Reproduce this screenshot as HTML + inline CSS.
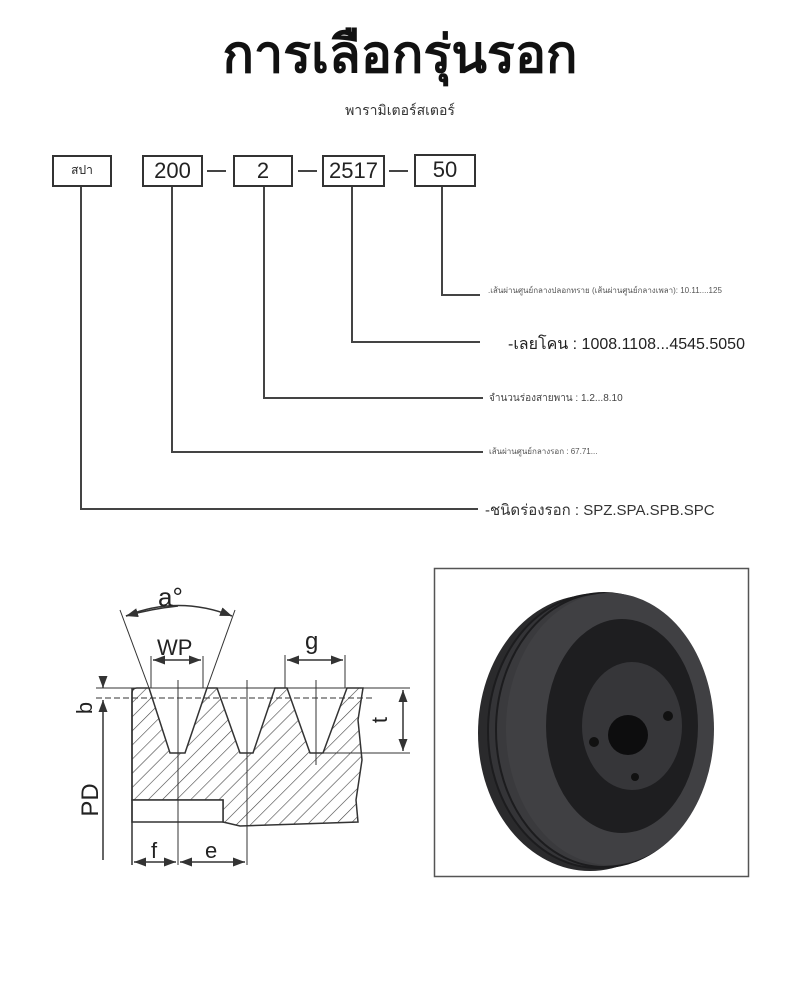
<!DOCTYPE html>
<html><head><meta charset="utf-8"><style>
body{margin:0;background:#fff;width:800px;height:985px;position:relative;overflow:hidden;font-family:"Liberation Sans","DejaVu Sans",sans-serif;color:#222}
.t{position:absolute;white-space:nowrap}
.box{position:absolute;border:2px solid #333;box-sizing:border-box;text-align:center;font-size:22px;line-height:27px;color:#222}
</style></head><body>
<div class="t" style="left:0;width:800px;text-align:center;top:12px;font-size:52px;font-weight:bold;color:#111">การเลือกรุ่นรอก</div>
<div class="t" style="left:0;width:800px;text-align:center;top:100px;font-size:14px;color:#333">พารามิเตอร์สเตอร์</div>

<div class="box" style="left:52px;top:155px;width:60px;height:32px;font-size:12px">สปา</div>
<div class="box" style="left:142px;top:155px;width:61px;height:32px">200</div>
<div class="box" style="left:233px;top:155px;width:60px;height:32px">2</div>
<div class="box" style="left:322px;top:155px;width:63px;height:32px">2517</div>
<div class="box" style="left:414px;top:154px;width:62px;height:33px">50</div>

<svg width="800" height="985" style="position:absolute;left:0;top:0">
<g stroke="#444" stroke-width="2" fill="none">
<line x1="207" y1="171" x2="226" y2="171"/><line x1="298" y1="171" x2="317" y2="171"/><line x1="389" y1="171" x2="408" y2="171"/>
<polyline points="81,187 81,509 478,509"/>
<polyline points="172,187 172,452 483,452"/>
<polyline points="264,187 264,398 483,398"/>
<polyline points="352,187 352,342 480,342"/>
<polyline points="442,187 442,295 480,295"/>
</g>
<defs><pattern id="h" width="10" height="10" patternUnits="userSpaceOnUse" patternTransform="rotate(45)"><line x1="0" y1="0" x2="0" y2="10" stroke="#444" stroke-width="1.2"/></pattern>
<marker id="a" markerWidth="8" markerHeight="6" refX="8" refY="3" orient="auto"><path d="M0,0L8,3L0,6z" fill="#333"/></marker></defs>
<g stroke="#333" stroke-width="1.5">
<path d="M132,693 Q132,688 137,688 L149,688 L170,753 L185,753 L207,688 L217,688 L240,753 L253,753 L275,688 L287,688 L310,753 L323,753 L347,688 L363,688 L358,720 L362,760 L356,800 L358,822 L300,824 L240,826 L223,822 L223,800 L132,800 Z" fill="url(#h)"/>
<rect x="132" y="800" width="91" height="22" fill="#fff"/>
<line x1="132" y1="688" x2="132" y2="865"/>
<line x1="178" y1="680" x2="178" y2="865" stroke-width="1"/>
<line x1="247" y1="680" x2="247" y2="865" stroke-width="1"/>
<line x1="316" y1="680" x2="316" y2="765" stroke-width="1"/>
<line x1="96" y1="688" x2="410" y2="688" stroke-width="1"/>
<line x1="96" y1="698" x2="372" y2="698" stroke-width="1" stroke-dasharray="6,3"/>
<line x1="323" y1="753" x2="410" y2="753" stroke-width="1"/>
<line x1="103" y1="682" x2="103" y2="688" marker-end="url(#a)"/>
<line x1="103" y1="860" x2="103" y2="700" marker-end="url(#a)"/>
<line x1="403" y1="720" x2="403" y2="690" marker-end="url(#a)"/>
<line x1="403" y1="720" x2="403" y2="751" marker-end="url(#a)"/>
<line x1="120" y1="610" x2="149" y2="688" stroke-width="1"/>
<line x1="235" y1="610" x2="207" y2="688" stroke-width="1"/>
<path d="M126,616 Q178,595 232,616" fill="none" marker-end="url(#a)"/>
<path d="M178,606 Q150,609 126,616" fill="none" marker-end="url(#a)"/>
<line x1="151" y1="656" x2="151" y2="688" stroke-width="1"/><line x1="203" y1="656" x2="203" y2="688" stroke-width="1"/>
<line x1="177" y1="660" x2="153" y2="660" marker-end="url(#a)"/><line x1="177" y1="660" x2="201" y2="660" marker-end="url(#a)"/>
<line x1="285" y1="655" x2="285" y2="688" stroke-width="1"/><line x1="345" y1="655" x2="345" y2="688" stroke-width="1"/>
<line x1="315" y1="660" x2="287" y2="660" marker-end="url(#a)"/><line x1="315" y1="660" x2="343" y2="660" marker-end="url(#a)"/>
<line x1="155" y1="862" x2="134" y2="862" marker-end="url(#a)"/><line x1="155" y1="862" x2="176" y2="862" marker-end="url(#a)"/>
<line x1="212" y1="862" x2="180" y2="862" marker-end="url(#a)"/><line x1="212" y1="862" x2="245" y2="862" marker-end="url(#a)"/>
</g>
<g font-family="Liberation Sans,sans-serif" fill="#222">
<text x="158" y="606" font-size="26">a°</text>
<text x="157" y="655" font-size="22">WP</text>
<text x="305" y="649" font-size="24">g</text>
<text x="92" y="708" font-size="22" transform="rotate(-90 92 708)" text-anchor="middle" dy="0">b</text>
<text x="98" y="800" font-size="24" transform="rotate(-90 98 800)" text-anchor="middle">PD</text>
<text x="387" y="720" font-size="22" transform="rotate(-90 387 720)" text-anchor="middle">t</text>
<text x="151" y="858" font-size="22">f</text>
<text x="205" y="858" font-size="22">e</text>
</g>
<rect x="434.5" y="568.5" width="314" height="308" fill="#fff" stroke="#555" stroke-width="1.5"/>
<ellipse cx="590" cy="733" rx="112" ry="138" fill="#2a2a2c"/>
<ellipse cx="598" cy="731" rx="110" ry="137" fill="#343437" stroke="#1c1c1e" stroke-width="2"/>
<ellipse cx="604" cy="730" rx="108" ry="137" fill="#3a3a3d" stroke="#1c1c1e" stroke-width="2"/>
<ellipse cx="610" cy="729" rx="104" ry="136" fill="#404043"/>
<ellipse cx="622" cy="726" rx="76" ry="107" fill="#1e1e20"/>
<ellipse cx="632" cy="726" rx="50" ry="64" fill="#363639"/>
<circle cx="628" cy="735" r="20" fill="#0d0d0e"/>
<circle cx="594" cy="742" r="5" fill="#111"/><circle cx="668" cy="716" r="5" fill="#111"/><circle cx="635" cy="777" r="4" fill="#111"/>
</svg>

<div class="t" style="left:488px;top:284px;font-size:8px;color:#555">.เส้นผ่านศูนย์กลางปลอกทราย (เส้นผ่านศูนย์กลางเพลา): 10.11....125</div>
<div class="t" style="left:508px;top:332px;font-size:16px;color:#222">-เลยโคน : 1008.1108...4545.5050</div>
<div class="t" style="left:489px;top:391px;font-size:10px;color:#444">จำนวนร่องสายพาน : 1.2...8.10</div>
<div class="t" style="left:489px;top:445px;font-size:8px;color:#555">เส้นผ่านศูนย์กลางรอก : 67.71...</div>
<div class="t" style="left:485px;top:498px;font-size:15px;color:#333">-ชนิดร่องรอก : SPZ.SPA.SPB.SPC</div>
</body></html>
